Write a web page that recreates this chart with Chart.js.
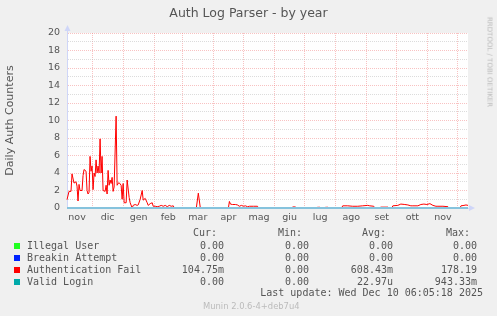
<!DOCTYPE html>
<html>
<head>
<meta charset="utf-8">
<script src="https://cdn.jsdelivr.net/npm/chart.js@4.4.1/dist/chart.umd.min.js"></script>
<style>
  html, body { margin: 0; padding: 0; background: #f0f0f0; }
  #wrap { position: relative; width: 497px; height: 316px; overflow: hidden; font-family: "DejaVu Sans", sans-serif; color: #555; }
  #myChart { position: absolute; left: 0; top: 0; }
  .txt { position: absolute; white-space: pre; line-height: 1; transform: translateY(-50%); }
  .mono { font-family: "DejaVu Sans Mono", monospace; font-size: 10px; }
  .sq { position: absolute; width: 6px; height: 6px; }
</style>
</head>
<body>
<div id="wrap">
  <canvas id="myChart" width="497" height="316"></canvas>
  <div class="txt" id="title" style="left:0; width:497px; text-align:center; top:13px; font-size:12.5px;">Auth Log Parser - by year</div>
  <div class="txt" style="left:489px; top:62px; font-size:7px; color:#bbb; transform: translate(-50%, -50%) rotate(90deg);">RRDTOOL / TOBI OETIKER</div>
  <div id="legend"></div>
  <div class="txt mono" style="right:14px; top:293px;">Last update: Wed Dec 10 06:05:18 2025</div>
  <div class="txt" style="left:203px; top:306px; font-size:8.4px; color:#bbb;">Munin 2.0.6-4+deb7u4</div>
</div>
<script>
// x values are days since the left edge of the graph (about 6 Nov 2024)
const monthLabels = ['nov', 'dic', 'gen', 'feb', 'mar', 'apr', 'mag', 'giu', 'lug', 'ago', 'set', 'ott', 'nov'];
const monthMid = [10, 40.5, 71.5, 101, 130.5, 161, 191.5, 222, 252.5, 283.5, 314, 344.5, 375];
const monthStarts = [25, 56, 87, 115, 146, 176, 207, 237, 268, 299, 329, 360, 390];
const yTicks = [0, 1, 2, 3, 4, 5, 6, 7, 8, 9, 10, 11, 12, 13, 14, 15, 16, 17, 18, 19, 20];

const authFailDays = [0, 2, 4, 5, 7, 9, 10, 11, 12, 13, 15, 16, 17, 19, 20, 21, 22, 23, 24, 25,
  26, 27, 28, 29, 30, 31, 32, 33, 34, 35, 36, 38, 39, 40, 41, 42, 43, 44, 45, 46,
  47, 49, 50, 51, 52, 54, 55, 56, 57, 59, 60, 62, 63, 65, 66, 68, 70, 71, 73, 75,
  76, 78, 80, 81, 83, 85, 86, 88, 90, 92, 94, 96, 98, 100, 102, 104, 106, 107, 129, 131,
  133, 161, 162, 163, 165, 168, 170, 172, 174, 176, 178, 180, 182, 186, 190, 191, 224, 225, 228, 229,
  249, 250, 252, 253, 257, 258, 260, 261, 274, 275, 280, 285, 290, 295, 300, 302, 306, 307, 312, 313,
  320, 321, 324, 325, 330, 333, 337, 340, 343, 345, 350, 353, 356, 359, 362, 365, 368, 370, 375, 380,
  381, 392, 393, 396, 398, 400];
const authFail = [0.95, 1.9, 1.9, 3.9, 2.85, 3.0, 2.5, 0.8, 2.7, 2.0, 2.0, 3.7, 4.4, 4.2, 2.0, 1.6, 1.8, 5.9, 4.2, 4.8,
  2.1, 4.0, 3.6, 5.5, 4.0, 4.8, 4.0, 7.9, 4.0, 5.9, 2.0, 1.9, 2.6, 1.6, 4.3, 2.6, 3.2, 2.8, 3.5, 1.9,
  2.4, 10.5, 2.6, 2.8, 2.9, 2.6, 1.0, 2.8, 0.6, 0.6, 3.2, 1.2, 0.6, 0.0, 0.3, 0.4, 0.3, 0.35, 1.0, 2.0,
  0.9, 1.1, 0.6, 0.3, 0.5, 0.6, 0.2, 0.2, 0.15, 0.2, 0.3, 0.2, 0.3, 0.15, 0.3, 0.2, 0.25, 0, 0, 1.7,
  0, 0, 0.75, 0.45, 0.4, 0.4, 0.35, 0.2, 0.3, 0.2, 0.25, 0.15, 0.2, 0.2, 0.2, 0, 0, 0.12, 0.12, 0,
  0, 0.08, 0.08, 0, 0, 0.08, 0.08, 0, 0, 0.25, 0.25, 0.2, 0.2, 0.25, 0.3, 0.25, 0.2, 0, 0, 0.1,
  0.1, 0, 0, 0.25, 0.3, 0.45, 0.4, 0.35, 0.25, 0.25, 0.25, 0.4, 0.45, 0.4, 0.5, 0.3, 0.2, 0.2, 0.2, 0.15,
  0, 0, 0.25, 0.3, 0.35, 0.3];

const flatDays = [0, 400];
const validLogin = [0, 0];
const breakinAttempt = [0, 0];
const illegalUser = [0, 0];

const seriesNames = ['Illegal User', 'Breakin Attempt', 'Authentication Fail', 'Valid Login'];
const seriesColors = ['#22ff22', '#0022ff', '#ff0000', '#00aaaa'];
const curVals = ['0.00', '0.00', '104.75m', '0.00'];
const minVals = ['0.00', '0.00', '0.00', '0.00'];
const avgVals = ['0.00', '0.00', '608.43m', '22.97u'];
const maxVals = ['0.00', '0.00', '178.19', '943.33m'];

const majorGrid = 'rgba(240, 120, 120, 0.45)';
const minorGrid = 'rgba(185, 185, 185, 0.5)';
const axisColor = '#cfd6f8';
const zeroLineColor = '#86c3dd';
const tickFont = { family: 'DejaVu Sans', size: 9.5 };

const toPoints = (xs, ys) => xs.map((x, i) => ({ x: x, y: ys[i] }));

const frame = {
  id: 'frame',
  beforeDraw(chart) {
    const { ctx, chartArea: a } = chart;
    ctx.save();
    ctx.fillStyle = '#ffffff';
    ctx.fillRect(a.left, a.top, a.right - a.left, a.bottom - a.top);
    ctx.restore();
  },
  afterDraw(chart) {
    const { ctx, chartArea: a } = chart;
    ctx.save();
    ctx.fillStyle = axisColor;
    ctx.strokeStyle = axisColor;
    ctx.beginPath();
    ctx.moveTo(a.left + 0.5, a.top);
    ctx.lineTo(a.left + 0.5, a.top - 3);
    ctx.stroke();
    ctx.beginPath();
    ctx.moveTo(a.left - 2.5, a.top - 2);
    ctx.lineTo(a.left + 3.5, a.top - 2);
    ctx.lineTo(a.left + 0.5, a.top - 8);
    ctx.closePath();
    ctx.fill();
    ctx.beginPath();
    ctx.moveTo(a.right + 1, a.bottom - 3);
    ctx.lineTo(a.right + 1, a.bottom + 3);
    ctx.lineTo(a.right + 7, a.bottom);
    ctx.closePath();
    ctx.fill();
    ctx.restore();
  }
};

const line = (label, pts, color, order, width) => ({
  label: label, data: pts, borderColor: color, backgroundColor: color,
  borderWidth: width, pointRadius: 0, tension: 0, fill: false, order: order, clip: 2
});

const ctx = document.getElementById('myChart').getContext('2d');
let myChart = new Chart(ctx, {
  type: 'line',
  data: {
    datasets: [
      line('Valid Login', toPoints(flatDays, validLogin), zeroLineColor, 0, 2),
      line('Authentication Fail', toPoints(authFailDays, authFail), seriesColors[2], 1, 1),
      line('Breakin Attempt', toPoints(flatDays, breakinAttempt), seriesColors[1], 2, 1),
      line('Illegal User', toPoints(flatDays, illegalUser), seriesColors[0], 3, 1)
    ]
  },
  plugins: [frame],
  options: {
    responsive: false,
    animation: false,
    devicePixelRatio: 1,
    layout: { padding: { left: 0, top: 33, right: 29, bottom: 92 } },
    plugins: { legend: { display: false }, tooltip: { enabled: false }, title: { display: false } },
    scales: {
      x: {
        type: 'linear', min: 0, max: 400, position: 'bottom',
        afterBuildTicks: (s) => { s.ticks = monthMid.map((v) => ({ value: v })); },
        afterFit: (s) => { s.height = 16; },
        grid: { display: false, drawTicks: false },
        border: { display: true, color: axisColor },
        ticks: {
          autoSkip: false, maxRotation: 0, padding: 4, color: '#555', font: tickFont,
          callback: (v, i) => monthLabels[i]
        }
      },
      months: {
        type: 'linear', min: 0, max: 400, position: 'bottom',
        afterBuildTicks: (s) => { s.ticks = monthStarts.map((v) => ({ value: v })); },
        afterFit: (s) => { s.height = 0; },
        grid: { color: majorGrid, drawTicks: false },
        border: { display: false, dash: [1, 1] },
        ticks: { display: false }
      },
      y: {
        min: 0, max: 20,
        afterBuildTicks: (s) => { s.ticks = yTicks.map((v) => ({ value: v })); },
        afterFit: (s) => { s.width = 67; },
        grid: {
          drawTicks: false,
          color: (c) => (c.tick && c.tick.value % 2 === 0 ? majorGrid : minorGrid)
        },
        border: { color: axisColor, dash: [1, 1] },
        ticks: {
          autoSkip: false, padding: 7, color: '#555', font: tickFont,
          callback: (v) => (v % 2 === 0 ? String(v) : '')
        },
        title: {
          display: true, text: 'Daily Auth Counters', color: '#555',
          font: { family: 'DejaVu Sans', size: 11 }, padding: { top: 4, bottom: 0 }
        }
      }
    }
  }
});

// legend table under the graph
const legend = document.getElementById('legend');
const addText = (text, styles) => {
  let d = document.createElement('div');
  d.className = 'txt mono';
  d.textContent = text;
  Object.assign(d.style, styles);
  legend.appendChild(d);
};
const headerRight = [280, 195, 111, 27];
['Cur:', 'Min:', 'Avg:', 'Max:'].forEach((h, i) => addText(h, { right: headerRight[i] + 'px', top: '233px' }));
const colRight = [273, 188, 104, 20];
const rowY = [245.5, 257.5, 269.5, 281.5];
seriesNames.forEach((name, r) => {
  let sq = document.createElement('div');
  sq.className = 'sq';
  sq.style.left = '14px';
  sq.style.top = (rowY[r] - 3) + 'px';
  sq.style.background = seriesColors[r];
  legend.appendChild(sq);
  addText(name, { left: '27px', top: rowY[r] + 'px' });
  [curVals, minVals, avgVals, maxVals].forEach((col, c) => {
    addText(col[r], { right: colRight[c] + 'px', top: rowY[r] + 'px' });
  });
});
</script>
</body>
</html>
